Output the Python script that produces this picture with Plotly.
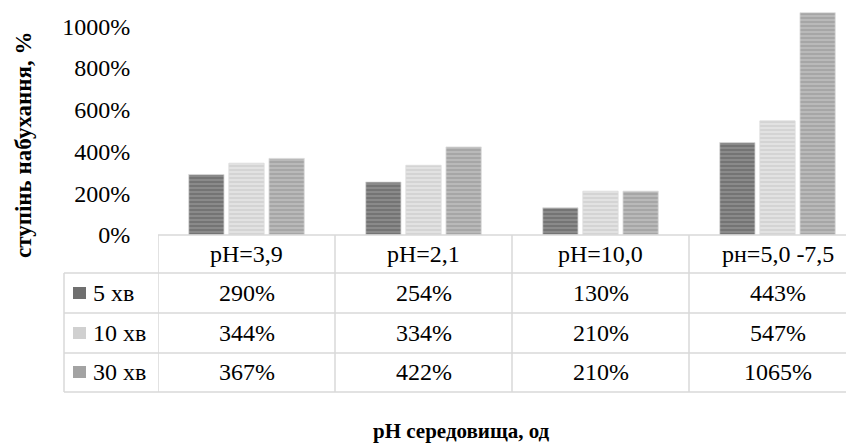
import plotly.graph_objects as go

categories = ["pH=3,9", "pH=2,1", "pH=10,0", "pн=5,0 -7,5"]
series_names = ["5 хв", "10 хв", "30 хв"]
values_5 = [290, 254, 130, 443]
values_10 = [344, 334, 210, 547]
values_30 = [367, 422, 210, 1065]
y_ticks = [0, 200, 400, 600, 800, 1000]

series_values = [values_5, values_10, values_30]
bg_colors = ["#8a8a8a", "#e2e2e2", "#b9b9b9"]
fg_colors = ["#595959", "#c4c4c4", "#8e8e8e"]
key_colors = ["#6f6f6f", "#d0d0d0", "#a3a3a3"]

FONT = "'Liberation Serif', 'Times New Roman', serif"
OFF = 8  # page body margin
W, H = 854 - OFF, 445 - OFF
L = 158 - OFF
T = 0
AXIS_Y = 235 - OFF
B = H - AXIS_Y
plot_h = AXIS_Y - T
px_per_cat = 177.0
plot_w = W - L
x_max = -0.5 + plot_w / px_per_cat
y_max = (AXIS_Y - T) / 0.2087


def py(pix):
    """reference pixel y (from window top) -> paper y"""
    return (AXIS_Y - (pix - OFF)) / plot_h


def px(pix):
    return (pix - OFF - L) / plot_w


fig = go.Figure()
for name, vals, bg, fg in zip(series_names, series_values, bg_colors, fg_colors):
    fig.add_trace(go.Bar(
        x=categories, y=vals, name=name,
        marker=dict(color=bg,
                    pattern=dict(shape="-", fgcolor=fg, bgcolor=bg, size=4, solidity=0.45),
                    line=dict(color="#dcdcdc", width=0.8)),
        showlegend=False,
    ))

shapes = []
annotations = []
line_col = "#d9d9d9"
lw = 1.5
TF = dict(family=FONT, size=24, color="black")

row_lines = [273, 313, 353, 392]
header_center = 254
row_centers = [293, 333, 372]

shapes.append(dict(type="line", xref="paper", yref="paper", x0=0, x1=1,
                   y0=py(235), y1=py(235), line=dict(color=line_col, width=lw)))
for r in row_lines:
    shapes.append(dict(type="line", xref="paper", yref="paper", x0=px(64), x1=1,
                       y0=py(r), y1=py(r), line=dict(color=line_col, width=lw)))
for i in range(len(categories)):
    shapes.append(dict(type="line", xref="x", yref="paper", x0=i - 0.5, x1=i - 0.5,
                       y0=py(235), y1=py(392), line=dict(color=line_col, width=lw)))
shapes.append(dict(type="line", xref="paper", yref="paper", x0=px(64), x1=px(64),
                   y0=py(273), y1=py(392), line=dict(color=line_col, width=lw)))

for c in categories:
    annotations.append(dict(x=c, xref="x", y=py(header_center), yref="paper",
                            xanchor="center", yanchor="middle",
                            text=c, showarrow=False, font=TF))
for k, (name, vals) in enumerate(zip(series_names, series_values)):
    yc = py(row_centers[k])
    shapes.append(dict(type="rect", xref="paper", yref="paper",
                       x0=px(73), x1=px(86), y0=yc - 6 / plot_h, y1=yc + 6 / plot_h,
                       fillcolor=key_colors[k], line=dict(width=0)))
    annotations.append(dict(x=px(91), xref="paper", y=yc, yref="paper",
                            xanchor="left", yanchor="middle",
                            text=name, showarrow=False, font=TF))
    for c, v in zip(categories, vals):
        annotations.append(dict(x=c, xref="x", y=yc, yref="paper",
                                xanchor="center", yanchor="middle",
                                text=f"{v}%", showarrow=False, font=TF))

annotations.append(dict(x=px(23), xref="paper", y=py(145), yref="paper", textangle=-90,
                        xanchor="center", yanchor="middle",
                        text="<b>ступінь набухання, %</b>", showarrow=False,
                        font=dict(family=FONT, size=23, color="black")))
annotations.append(dict(x=px(461), xref="paper", y=py(431), yref="paper",
                        xanchor="center", yanchor="middle",
                        text="<b>pH середовища, од</b>", showarrow=False,
                        font=dict(family=FONT, size=21, color="black")))

fig.update_layout(
    width=W, height=H,
    margin=dict(l=L, r=0, t=T, b=B, pad=0),
    paper_bgcolor="white", plot_bgcolor="white",
    font=dict(family=FONT),
    barmode="group", bargap=0.32, bargroupgap=0.12,
    shapes=shapes, annotations=annotations,
    xaxis=dict(range=[-0.5, x_max], showticklabels=False, showline=False,
               showgrid=False, zeroline=False, ticks=""),
    yaxis=dict(range=[0, y_max], tickvals=y_ticks, ticktext=[f"{t}%" for t in y_ticks],
               showgrid=False, zeroline=False, showline=False,
               ticks="outside", ticklen=22, tickcolor="rgba(0,0,0,0)",
               tickfont=dict(family=FONT, size=24, color="black")),
)

fig.write_html("out.html")
